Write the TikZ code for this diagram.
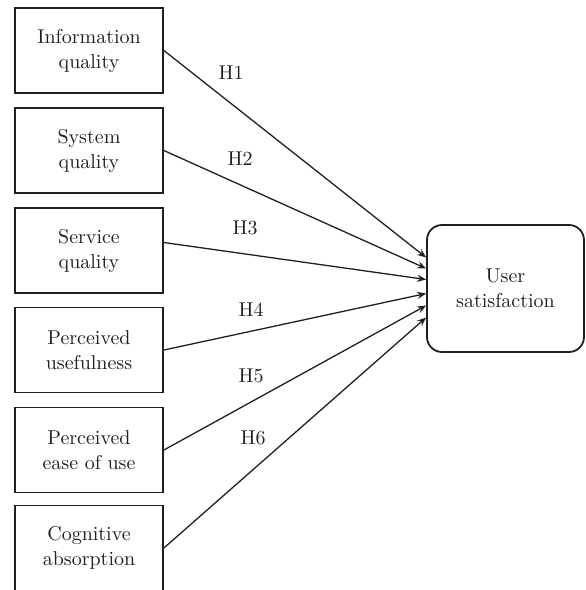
\documentclass[tikz,border=0pt]{standalone}
\usetikzlibrary{arrows.meta}
\definecolor{ink}{RGB}{35,31,32}
\begin{document}
\begin{tikzpicture}
            [x=0.5pt,y=-0.5pt,
             Box/.style={draw=ink,line width=0.9pt,minimum width=74pt,minimum height=42.5pt,align=center,inner sep=0pt,text=ink,font=\fontsize{10}{12.5}\selectfont},
             Goal/.style={Box,rounded corners=7.5pt,minimum width=78.5pt,minimum height=63.5pt},
             Lab/.style={text=ink,font=\fontsize{10}{12.5}\selectfont},
             Arr/.style={draw=ink,line width=0.65pt,-{Stealth[length=4.5pt,width=3.6pt,inset=1.6pt]}}]
            \useasboundingbox (0,0) rectangle (585,590);

            \node[Box] (b1) at (89,50.5) {Information\\quality};
            \node[Box] (b2) at (89,150.5) {System\\quality};
            \node[Box] (b3) at (89,250.5) {Service\\quality};
            \node[Box] (b4) at (89,350) {Perceived\\usefulness};
            \node[Box] (b5) at (89,450) {Perceived\\ease of use};
            \node[Box] (b6) at (89,548) {Cognitive\\absorption};

            \node[Goal] (us) at (505.5,288.5) {User\\satisfaction};

            \draw[Arr] (b1.east) to ([yshift=15.5pt]us.west);
            \draw[Arr] (b2.east) to ([yshift=10pt]us.west);
            \draw[Arr] ([yshift=4pt]b3.east) to ([yshift=4.5pt]us.west);
            \draw[Arr] (b4.east) to ([yshift=-2.5pt]us.west);
            \draw[Arr] (b5.east) to ([yshift=-8.5pt]us.west);
            \draw[Arr] (b6.east) to ([yshift=-14.5pt]us.west);

            \node[Lab] (h1) at (231,73) {H1};
            \node[Lab] (h2) at (240,159) {H2};
            \node[Lab] (h3) at (245,228) {H3};
            \node[Lab] (h4) at (251,310) {H4};
            \node[Lab] (h5) at (251,376) {H5};
            \node[Lab] (h6) at (253,438) {H6};
        \end{tikzpicture}
\end{document}
